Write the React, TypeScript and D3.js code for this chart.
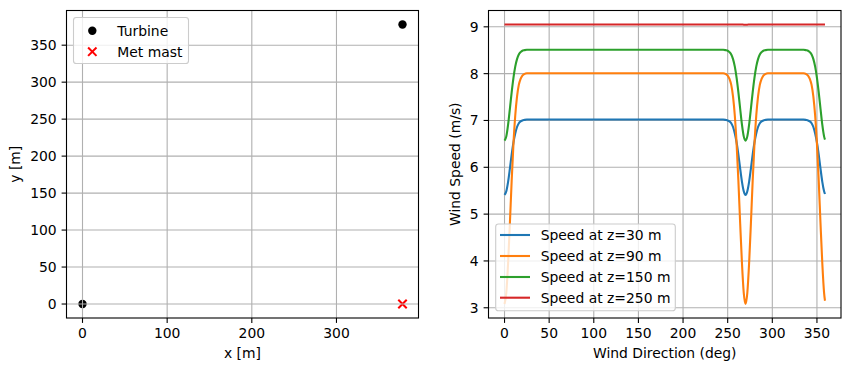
import React from 'react';
import * as d3 from 'd3';

// left panel: layout of the site
const turbineX = [0, 378];
const turbineY = [0, 378];
const mastX = [378];
const mastY = [0];
const siteTicks = [0, 100, 200, 300];
const siteTicksY = [0, 50, 100, 150, 200, 250, 300, 350];

// right panel: speed at the mast vs wind direction
const directions = [
  0, 2, 4, 6, 8, 10, 12, 14, 16, 18, 20, 22, 25, 30,
  240, 245, 248, 250, 252, 254, 256, 258, 260, 262, 264, 266, 268,
  270,
  272, 274, 276, 278, 280, 282, 284, 286, 288, 290, 292, 295, 300,
  330, 335, 338, 340, 342, 344, 346, 348, 350, 352, 354, 356, 358, 359,
];
const speed30 = [
  5.41, 5.49, 5.69, 5.97, 6.27, 6.53, 6.72, 6.86, 6.94, 6.98, 7.0, 7.01, 7.02, 7.02,
  7.02, 7.02, 7.01, 7.0, 6.98, 6.94, 6.86, 6.72, 6.53, 6.27, 5.97, 5.69, 5.49,
  5.41,
  5.49, 5.69, 5.97, 6.27, 6.53, 6.72, 6.86, 6.94, 6.98, 7.0, 7.01, 7.02, 7.02,
  7.02, 7.02, 7.01, 7.0, 6.98, 6.94, 6.86, 6.72, 6.53, 6.27, 5.97, 5.69, 5.49, 5.43,
];
const speed90 = [
  3.08, 3.32, 3.95, 4.8, 5.71, 6.5, 7.1, 7.51, 7.76, 7.89, 7.96, 7.99, 8.01, 8.01,
  8.01, 8.01, 7.99, 7.96, 7.89, 7.76, 7.51, 7.1, 6.5, 5.71, 4.8, 3.95, 3.32,
  3.08,
  3.32, 3.95, 4.8, 5.71, 6.5, 7.1, 7.51, 7.76, 7.89, 7.96, 7.99, 8.01, 8.01,
  8.01, 8.01, 7.99, 7.96, 7.89, 7.76, 7.51, 7.1, 6.5, 5.71, 4.8, 3.95, 3.32, 3.15,
];
const speed150 = [
  6.57, 6.66, 6.91, 7.25, 7.6, 7.91, 8.15, 8.31, 8.41, 8.46, 8.49, 8.5, 8.51, 8.51,
  8.51, 8.51, 8.5, 8.49, 8.46, 8.41, 8.31, 8.15, 7.91, 7.6, 7.25, 6.91, 6.66,
  6.57,
  6.66, 6.91, 7.25, 7.6, 7.91, 8.15, 8.31, 8.41, 8.46, 8.49, 8.5, 8.51, 8.51,
  8.51, 8.51, 8.5, 8.49, 8.46, 8.41, 8.31, 8.15, 7.91, 7.6, 7.25, 6.91, 6.66, 6.59,
];
const speed250 = directions.map((d) => (d >= 268 && d <= 272 ? 9.045 : 9.05));
const seriesNames = ['Speed at z=30 m', 'Speed at z=90 m', 'Speed at z=150 m', 'Speed at z=250 m'];
const seriesColors = ['#1f77b4', '#ff7f0e', '#2ca02c', '#d62728'];
const dirTicks = [0, 50, 100, 150, 200, 250, 300, 350];
const speedTicks = [3, 4, 5, 6, 7, 8, 9];

const FONT = 'DejaVu Sans, sans-serif';
const FS = 13.9;
const TICK = 4.9;
const PAD = 4.9;
const GRID = '#b0b0b0';

// matplotlib style 5% padding
const padded = (lo: number, hi: number): [number, number] => {
  const m = (hi - lo) * 0.05;
  return [lo - m, hi + m];
};

const Frame = ({ x0, x1, y0, y1 }) => (
  <rect x={x0} y={y0} width={x1 - x0} height={y1 - y0} fill="none" stroke="#000" strokeWidth={1.1} />
);

const SitePanel = () => {
  const x0 = 66.5, x1 = 418.5, y0 = 10.5, y1 = 318;
  const allX = [...turbineX, ...mastX];
  const allY = [...turbineY, ...mastY];
  const x = d3.scaleLinear().domain(padded(d3.min(allX)!, d3.max(allX)!)).range([x0, x1]);
  const y = d3.scaleLinear().domain(padded(d3.min(allY)!, d3.max(allY)!)).range([y1, y0]);
  const cross = (cx: number, cy: number, k: string) => (
    <g key={k} stroke="#ff0000" strokeWidth={2}>
      <line x1={cx - 4.2} y1={cy - 4.2} x2={cx + 4.2} y2={cy + 4.2} />
      <line x1={cx - 4.2} y1={cy + 4.2} x2={cx + 4.2} y2={cy - 4.2} />
    </g>
  );
  return (
    <g>
      {turbineX.map((tx, i) => (
        <circle key={'t' + i} cx={x(tx)} cy={y(turbineY[i])} r={4.2} fill="#000" />
      ))}
      {mastX.map((mx, i) => cross(x(mx), y(mastY[i]), 'm' + i))}
      {siteTicks.map((t) => (
        <line key={'gx' + t} x1={x(t)} x2={x(t)} y1={y0} y2={y1} stroke={GRID} strokeWidth={1.1} />
      ))}
      {siteTicksY.map((t) => (
        <line key={'gy' + t} x1={x0} x2={x1} y1={y(t)} y2={y(t)} stroke={GRID} strokeWidth={1.1} />
      ))}
      <Frame x0={x0} x1={x1} y0={y0} y1={y1} />
      {siteTicks.map((t) => (
        <g key={'tx' + t}>
          <line x1={x(t)} x2={x(t)} y1={y1} y2={y1 + TICK} stroke="#000" strokeWidth={1.1} />
          <text x={x(t)} y={y1 + TICK + PAD + 10.6} textAnchor="middle" fontSize={FS}>{t}</text>
        </g>
      ))}
      {siteTicksY.map((t) => (
        <g key={'ty' + t}>
          <line x1={x0 - TICK} x2={x0} y1={y(t)} y2={y(t)} stroke="#000" strokeWidth={1.1} />
          <text x={x0 - TICK - PAD} y={y(t) + 5} textAnchor="end" fontSize={FS}>{t}</text>
        </g>
      ))}
      <text x={(x0 + x1) / 2} y={358} textAnchor="middle" fontSize={FS}>x [m]</text>
      <text transform={`translate(20,${(y0 + y1) / 2}) rotate(-90)`} textAnchor="middle" fontSize={FS}>y [m]</text>
      {/* legend */}
      <rect x={73.5} y={17.5} width={115} height={46} rx={2.8} fill="#fff" fillOpacity={0.8} stroke="#cccccc" strokeWidth={1.1} />
      <circle cx={92.3} cy={30.7} r={4.2} fill="#000" />
      {cross(92.3, 51.7, 'leg')}
      <text x={117.3} y={35.7} fontSize={FS}>Turbine</text>
      <text x={117.3} y={56.7} fontSize={FS}>Met mast</text>
    </g>
  );
};

const SpeedPanel = () => {
  const x0 = 488.5, x1 = 841, y0 = 10.5, y1 = 318;
  const series = [speed30, speed90, speed150, speed250];
  const allV = series.flat();
  const x = d3.scaleLinear().domain(padded(d3.min(directions)!, d3.max(directions)!)).range([x0, x1]);
  const y = d3.scaleLinear().domain(padded(d3.min(allV)!, d3.max(allV)!)).range([y1, y0]);
  const line = d3
    .line<number>()
    .x((_, i) => x(directions[i]))
    .y((v) => y(v))
    .curve(d3.curveMonotoneX);
  const rows = [235, 256, 277, 297.7];
  return (
    <g>
      {dirTicks.map((t) => (
        <line key={'gx' + t} x1={x(t)} x2={x(t)} y1={y0} y2={y1} stroke={GRID} strokeWidth={1.1} />
      ))}
      {speedTicks.map((t) => (
        <line key={'gy' + t} x1={x0} x2={x1} y1={y(t)} y2={y(t)} stroke={GRID} strokeWidth={1.1} />
      ))}
      {series.map((s, i) => (
        <path key={'s' + i} d={line(s)!} fill="none" stroke={seriesColors[i]} strokeWidth={2.1} />
      ))}
      <Frame x0={x0} x1={x1} y0={y0} y1={y1} />
      {dirTicks.map((t) => (
        <g key={'tx' + t}>
          <line x1={x(t)} x2={x(t)} y1={y1} y2={y1 + TICK} stroke="#000" strokeWidth={1.1} />
          <text x={x(t)} y={y1 + TICK + PAD + 10.6} textAnchor="middle" fontSize={FS}>{t}</text>
        </g>
      ))}
      {speedTicks.map((t) => (
        <g key={'ty' + t}>
          <line x1={x0 - TICK} x2={x0} y1={y(t)} y2={y(t)} stroke="#000" strokeWidth={1.1} />
          <text x={x0 - TICK - PAD} y={y(t) + 5} textAnchor="end" fontSize={FS}>{t}</text>
        </g>
      ))}
      <text x={(x0 + x1) / 2} y={358} textAnchor="middle" fontSize={FS}>Wind Direction (deg)</text>
      <text transform={`translate(459.5,${(y0 + y1) / 2}) rotate(-90)`} textAnchor="middle" fontSize={FS}>Wind Speed (m/s)</text>
      {/* legend */}
      <rect x={495.7} y={224} width={179.6} height={86.7} rx={2.8} fill="#fff" fillOpacity={0.8} stroke="#cccccc" strokeWidth={1.1} />
      {seriesNames.map((n, i) => (
        <g key={'l' + i}>
          <line x1={500} x2={530} y1={rows[i]} y2={rows[i]} stroke={seriesColors[i]} strokeWidth={2.1} />
          <text x={540.7} y={rows[i] + 5} fontSize={FS}>{n}</text>
        </g>
      ))}
    </g>
  );
};

export default function App() {
  return (
    <svg
      width={850}
      height={371}
      style={{ position: 'absolute', left: 0, top: 0, background: '#fff' }}
      fontFamily={FONT}
      fill="#000"
    >
      <SitePanel />
      <SpeedPanel />
    </svg>
  );
}
